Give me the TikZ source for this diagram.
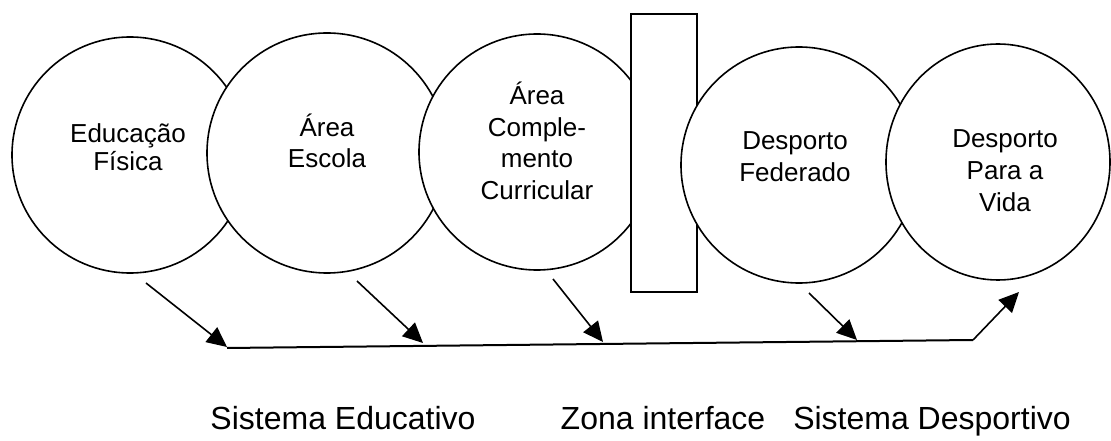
\documentclass[tikz,border=0pt]{standalone}
\usepackage{fontspec}
\setmainfont{Liberation Sans}
\usetikzlibrary{arrows.meta,shapes.geometric}
\begin{document}
\begin{tikzpicture}[x=0.75pt,y=-0.75pt,
  circ/.style={circle, draw, fill=white, line width=1.2pt, inner sep=0pt, minimum size=#1},
  ovl/.style={ellipse, draw, fill=white, line width=1.2pt, inner sep=0pt},
  zonebox/.style={rectangle, draw, fill=white, line width=1.2pt, inner sep=0pt},
  txt/.style={align=center, font=\fontsize{19.5pt}{23.7pt}\selectfont, inner sep=0pt},
  lbl/.style={font=\fontsize{24pt}{28pt}\selectfont, inner sep=0pt, anchor=base},
  arr/.style={line width=1.2pt, -{Triangle[length=15pt,width=14pt]}},
  bar/.style={line width=1.5pt}]
\useasboundingbox (0,0) rectangle (1111,441);
% circles (drawn in stacking order)
\node[circ=177pt] (c1) at (130,155) {};
\node[circ=180pt] (c2) at (327,153) {};
\node[circ=177pt] (c3) at (537,152) {};
\node[zonebox, minimum width=49.5pt, minimum height=208.5pt] (zona) at (664,153) {};
\node[circ=177pt] (c4) at (799,165) {};
\node[ovl, minimum width=168pt, minimum height=177pt] (c5) at (998,162) {};
% texts
\node[txt, font=\fontsize{19.5pt}{21pt}\selectfont] (t1) at (128,147) {Educação\\Física};
\node[txt] (t2) at (327,141) {Área\\Escola};
\node[txt] (t3) at (537,141) {Área\\Comple-\\mento\\Curricular};
\node[txt, font=\fontsize{19.5pt}{24pt}\selectfont] (t4) at (795,157) {Desporto\\Federado};
\node[txt, font=\fontsize{19.5pt}{24pt}\selectfont] (t5) at (1005,171) {Desporto\\Para a\\Vida};
% connector points
\coordinate (a1s) at (146,283);
\coordinate (a1e) at (227,347);
\coordinate (a2s) at (357,281);
\coordinate (a2e) at (423,343);
\coordinate (a3s) at (553,279);
\coordinate (a3e) at (603,342);
\coordinate (a4s) at (809,293);
\coordinate (a4e) at (857,340);
\coordinate (ls) at (227,348);
\coordinate (lk) at (973,340);
\coordinate (le) at (1019,292);
\draw[bar] (ls) -- (lk);
\draw[arr] (lk) -- (le);
\draw[arr] (a1s) -- (a1e);
\draw[arr] (a2s) -- (a2e);
\draw[arr] (a3s) -- (a3e);
\draw[arr] (a4s) -- (a4e);
% bottom labels
\node[lbl] (se) at (343,430) {Sistema Educativo};
\node[lbl] (zi) at (663,430) {Zona interface};
\node[lbl] (sd) at (932,430) {Sistema Desportivo};
\end{tikzpicture}
\end{document}
